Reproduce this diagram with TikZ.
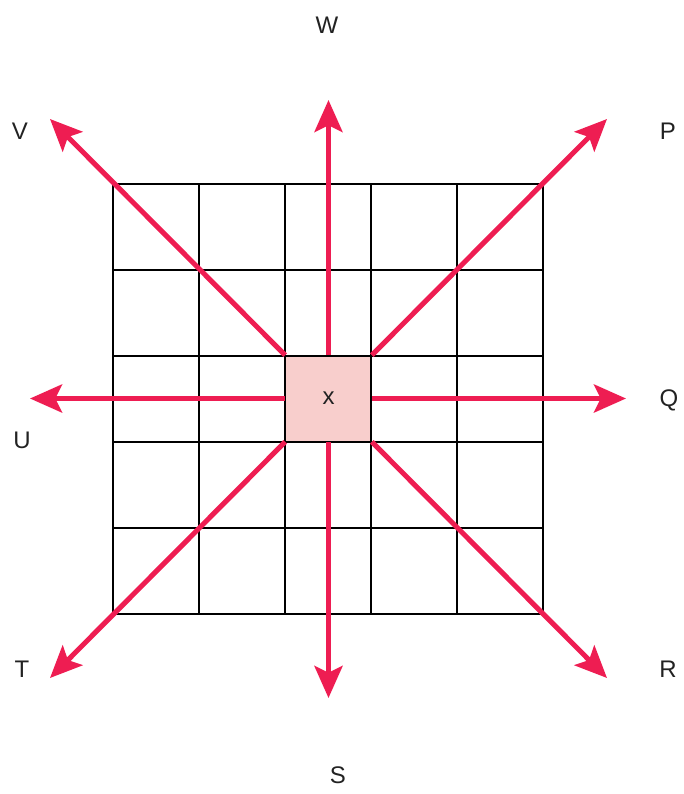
\documentclass[tikz,border=0pt]{standalone}
\usepackage{fontspec}
\setmainfont{Liberation Sans}
\usetikzlibrary{arrows.meta}
\definecolor{arrowred}{HTML}{EE1D52}
\definecolor{cellpink}{HTML}{F8CECC}
\definecolor{txtgray}{HTML}{222222}
\begin{document}
\begin{tikzpicture}[x=0.75pt,y=-0.75pt,>={Stealth[length=24pt,width=21pt,inset=5pt]},
  dir/.style={->,draw=arrowred,line width=3.8pt},
  lbl/.style={text=txtgray,font=\fontsize{18}{21}\selectfont}]
\useasboundingbox (0,0) rectangle (684,794);
\node[fill=cellpink,minimum size=64.5pt,inner sep=0pt,lbl] (x) at (328.5,398.5) {x};
\foreach \k in {0,...,5}{
\draw[line width=1pt](113+86*\k,184)--(113+86*\k,614);
\draw[line width=1pt](113,184+86*\k)--(543,184+86*\k);
}
\node[lbl] (W) at (327,25) {W};
\node[lbl] (P) at (668,131) {P};
\node[lbl] (Q) at (669,400) {Q};
\node[lbl] (R) at (668,669) {R};
\node[lbl] (S) at (338,775) {S};
\node[lbl] (T) at (22,669) {T};
\node[lbl] (U) at (22,440) {U};
\node[lbl] (V) at (20,131) {V};
\coordinate (wtip) at (328.5,100);
\coordinate (ptip) at (607,119);
\coordinate (qtip) at (626,398.5);
\coordinate (rtip) at (607,678);
\coordinate (stip) at (328.5,698);
\coordinate (ttip) at (50,678);
\coordinate (utip) at (30,398.5);
\coordinate (vtip) at (50,119);
\draw[dir](x.north)--(wtip);
\draw[dir](x.north east)--(ptip);
\draw[dir](x.east)--(qtip);
\draw[dir](x.south east)--(rtip);
\draw[dir](x.south)--(stip);
\draw[dir](x.south west)--(ttip);
\draw[dir](x.west)--(utip);
\draw[dir](x.north west)--(vtip);
\end{tikzpicture}
\end{document}
